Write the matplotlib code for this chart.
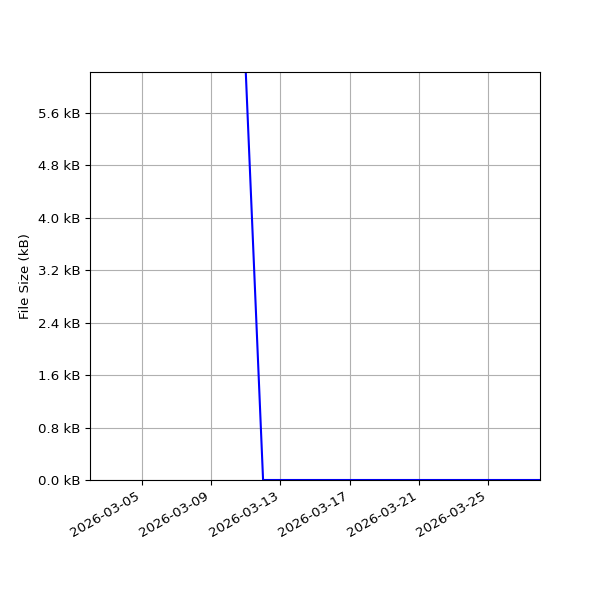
import matplotlib
matplotlib.use("Agg")
import matplotlib.pyplot as plt
import matplotlib.dates as mdates
import matplotlib.ticker as mticker
import pandas as pd

plt.rcParams["font.size"] = 9.6

dates = pd.date_range("2026-03-11", "2026-03-28", freq="D")
sizes_bytes = [6225] + [0] * (len(dates) - 1)
y_ticks_bytes = [0, 800, 1600, 2400, 3200, 4000, 4800, 5600]
x_ticks = pd.to_datetime(["2026-03-05", "2026-03-09", "2026-03-13", "2026-03-17", "2026-03-21", "2026-03-25"])

fig = plt.figure(figsize=(6, 6), dpi=100)
ax = fig.add_subplot(111)
ax.plot(dates, sizes_bytes, color="blue")
ax.set_xlim(pd.Timestamp("2026-03-02"), pd.Timestamp("2026-03-28"))
ax.set_ylim(0, 6225)
ax.set_yticks(y_ticks_bytes)
ax.yaxis.set_major_formatter(mticker.FuncFormatter(lambda v, p: f"{v/1000:.1f} kB"))
ax.set_xticks(x_ticks)
ax.xaxis.set_major_formatter(mdates.DateFormatter("%Y-%m-%d"))
ax.set_ylabel("File Size (kB)")
ax.grid(True)
fig.autofmt_xdate()
fig.subplots_adjust(left=0.15, right=0.9, bottom=0.2, top=0.88)
fig.savefig("out.png", dpi=100)
